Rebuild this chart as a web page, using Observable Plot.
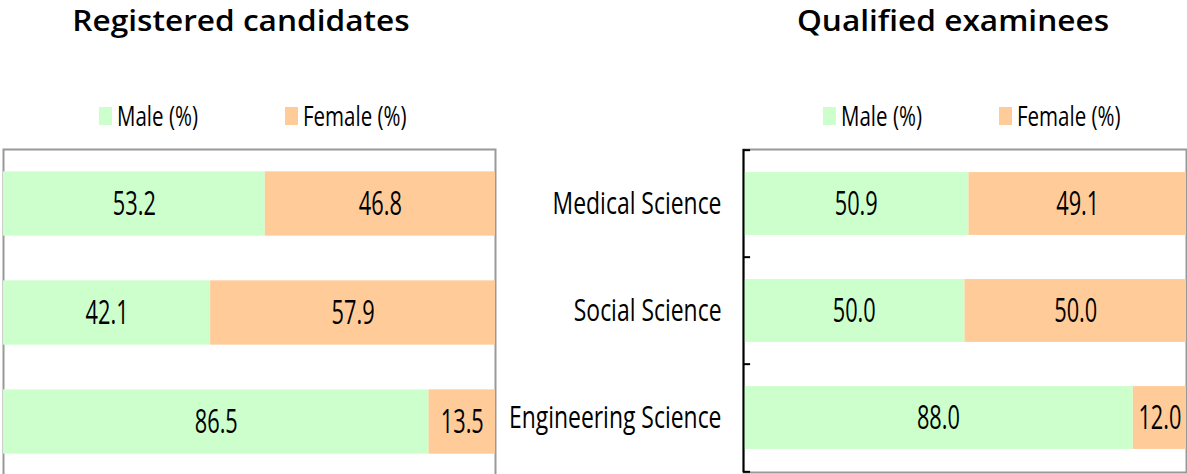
<!DOCTYPE html>
<html><head><meta charset="utf-8">
<script src="https://cdn.jsdelivr.net/npm/d3@7"></script>
<script src="https://cdn.jsdelivr.net/npm/@observablehq/plot@0.6"></script>
<style>
html,body{margin:0;padding:0;background:#fff;overflow:hidden}
#root{position:relative;width:1187px;height:474px;overflow:hidden;font-family:"Open Sans",sans-serif;color:#000}
.title{position:absolute;top:5px;font-weight:600;font-size:29px;line-height:1;white-space:nowrap;transform:translateX(-50%) scaleX(1.09)}
.sw{position:absolute;width:13px;height:18px;top:107px}
.lt{position:absolute;top:102px;font-size:27px;line-height:1;white-space:nowrap;transform:scaleX(0.76);transform-origin:left top}
.panel{position:absolute;top:0}
</style></head><body><div id="root"></div>
<script>
const categories = ["Medical Science", "Social Science", "Engineering Science"];
const sexes = ["Male (%)", "Female (%)"];
const colors = ["#CCFFCC", "#FFCC99"];
const registeredMale = [53.2, 42.1, 86.5];
const registeredFemale = [46.8, 57.9, 13.5];
const qualifiedMale = [50.9, 50.0, 88.0];
const qualifiedFemale = [49.1, 50.0, 12.0];
const titles = ["Registered candidates", "Qualified examinees"];

const root = document.getElementById("root");

function rows(male, female) {
  return categories.flatMap((c, i) => [
    {category: c, sex: sexes[0], value: male[i]},
    {category: c, sex: sexes[1], value: female[i]}
  ]);
}

function condense(svg, selector, s) {
  d3.select(svg).selectAll(selector).each(function () {
    const t = this.getAttribute("transform") || "";
    this.setAttribute("transform", t + ` scale(${s},1)`);
  });
}

function panel({data, left, width, height, marginLeft, marginRight, marginTop, marginBottom, withAxis}) {
  const step = (height - marginTop - marginBottom) / categories.length;
  const inset = step * 0.205;
  const marks = [
    Plot.frame({stroke: "#999", strokeWidth: 2}),
    Plot.barX(data, Plot.stackX({x: "value", y: "category", fill: "sex", insetTop: inset, insetBottom: inset})),
    Plot.text(data, Plot.stackX({x: "value", y: "category", z: "sex", text: d => d.value.toFixed(1), fontSize: 33, fill: "black"}))
  ];
  if (withAxis) {
    marks.push(
      Plot.ruleX([0], {stroke: "black", strokeWidth: 2}),
      Plot.ruleY(categories, {y: d => d, x1: 0, x2: 1.6, stroke: "black", strokeWidth: 2, dy: -step / 2}),
      Plot.ruleY(categories.slice(-1), {y: d => d, x1: 0, x2: 1.6, stroke: "black", strokeWidth: 2, dy: step / 2}),
      Plot.axisY({tickSize: 0, tickPadding: 22, fontSize: 31, label: null})
    );
  }
  const svg = Plot.plot({
    width, height, marginLeft, marginRight, marginTop, marginBottom,
    style: {fontFamily: "Open Sans, sans-serif", background: "transparent", overflow: "visible"},
    x: {domain: [0, 100], axis: null},
    y: {domain: categories, padding: 0, axis: null},
    color: {domain: sexes, range: colors},
    marks
  });
  condense(svg, 'g[aria-label="text"] text', 0.66);
  condense(svg, 'g[aria-label="y-axis tick label"] text', 0.74);
  svg.classList.add("panel");
  svg.style.left = left + "px";
  root.appendChild(svg);
}

function title(text, cx) {
  const d = document.createElement("div");
  d.className = "title";
  d.textContent = text;
  d.style.left = cx + "px";
  root.appendChild(d);
}

function legend(positions) {
  sexes.forEach((s, i) => {
    const sw = document.createElement("div");
    sw.className = "sw";
    sw.style.left = positions[i] + "px";
    sw.style.background = colors[i];
    root.appendChild(sw);
    const t = document.createElement("div");
    t.className = "lt";
    t.textContent = s;
    t.style.left = (positions[i] + 18) + "px";
    root.appendChild(t);
  });
}

panel({data: rows(registeredMale, registeredFemale), left: 0, width: 500, height: 478,
  marginLeft: 3, marginRight: 5, marginTop: 149, marginBottom: 2, withAxis: false});
panel({data: rows(qualifiedMale, qualifiedFemale), left: 487, width: 700, height: 474,
  marginLeft: 256, marginRight: 1, marginTop: 149, marginBottom: 2, withAxis: true});

title(titles[0], 241);
title(titles[1], 953);
legend([99, 285]);
legend([823, 999]);
</script></body></html>
